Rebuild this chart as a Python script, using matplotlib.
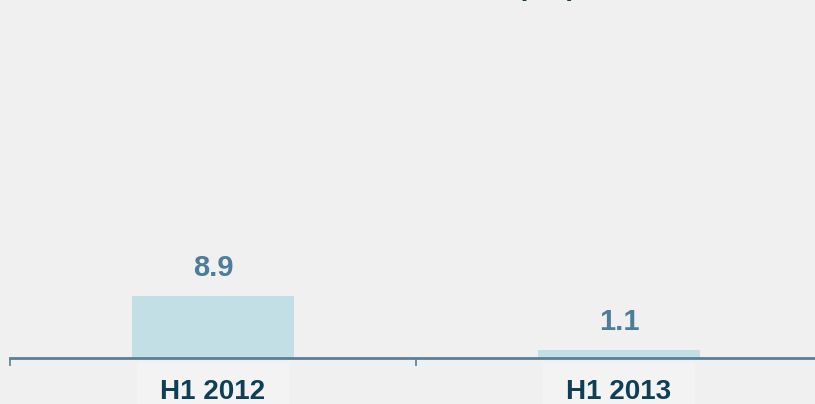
import matplotlib
matplotlib.use('Agg')
import matplotlib.pyplot as plt
import matplotlib.transforms as mtransforms
from matplotlib.patches import Rectangle

# Chart data
periods = ['H1 2012', 'H1 2013']
values = [8.9, 1.1]
title = 'Net income (€m)'

plt.rcParams['font.family'] = ['Liberation Sans', 'DejaVu Sans']

bg = '#f0f0f0'
bar_color = '#c2dfe5'
value_color = '#4d7d99'
label_color = '#0e3f55'
axis_color = '#5a7f96'

fig = plt.figure(figsize=(8.15, 4.04), dpi=100, facecolor=bg)
ax = fig.add_axes([10 / 815, 46 / 404, 812 / 815, 358 / 404])
ax.set_facecolor(bg)

x = list(range(len(periods)))
bars = ax.bar(x, values, width=0.40, color=bar_color, zorder=2)

ax.set_xlim(-0.5, len(periods) - 0.5)
ax.set_ylim(0, 51.4)

# value labels above bars
for xi, v in zip(x, values):
    ax.annotate(f'{v:.1f}', xy=(xi, v), xytext=(0, 10), textcoords='offset points',
                ha='center', va='bottom', fontsize=21, fontweight='bold',
                color=value_color)

# category labels below axis, on a faint lighter panel
trans = mtransforms.blended_transform_factory(ax.transData, ax.transAxes)
for xi, lab in zip(x, periods):
    ax.add_patch(Rectangle((xi - 0.187, -46 / 358), 0.374, 41 / 358, transform=trans,
                           facecolor='#f3f3f3', edgecolor='none', clip_on=False, zorder=0))
    ax.annotate(lab, xy=(xi, 0), xytext=(0, -15), textcoords='offset points',
                ha='center', va='top', fontsize=20, fontweight='bold',
                color=label_color)

# hide everything except bottom spine
for side in ['top', 'left', 'right']:
    ax.spines[side].set_visible(False)
ax.spines['bottom'].set_color(axis_color)
ax.spines['bottom'].set_linewidth(2)
ax.set_yticks([])
boundaries = [i - 0.5 for i in range(len(periods) + 1)]
ax.set_xticks(boundaries)
ax.set_xticklabels([''] * len(boundaries))
ax.tick_params(axis='x', direction='out', length=6, width=1.2, color=axis_color)

# title mostly cut off at the top
fig.text(576 / 815, 1 + 5 / 404, title, ha='right', va='baseline',
         fontsize=20, fontweight='bold', color=label_color)

fig.savefig('out.png', dpi=100, facecolor=bg)
